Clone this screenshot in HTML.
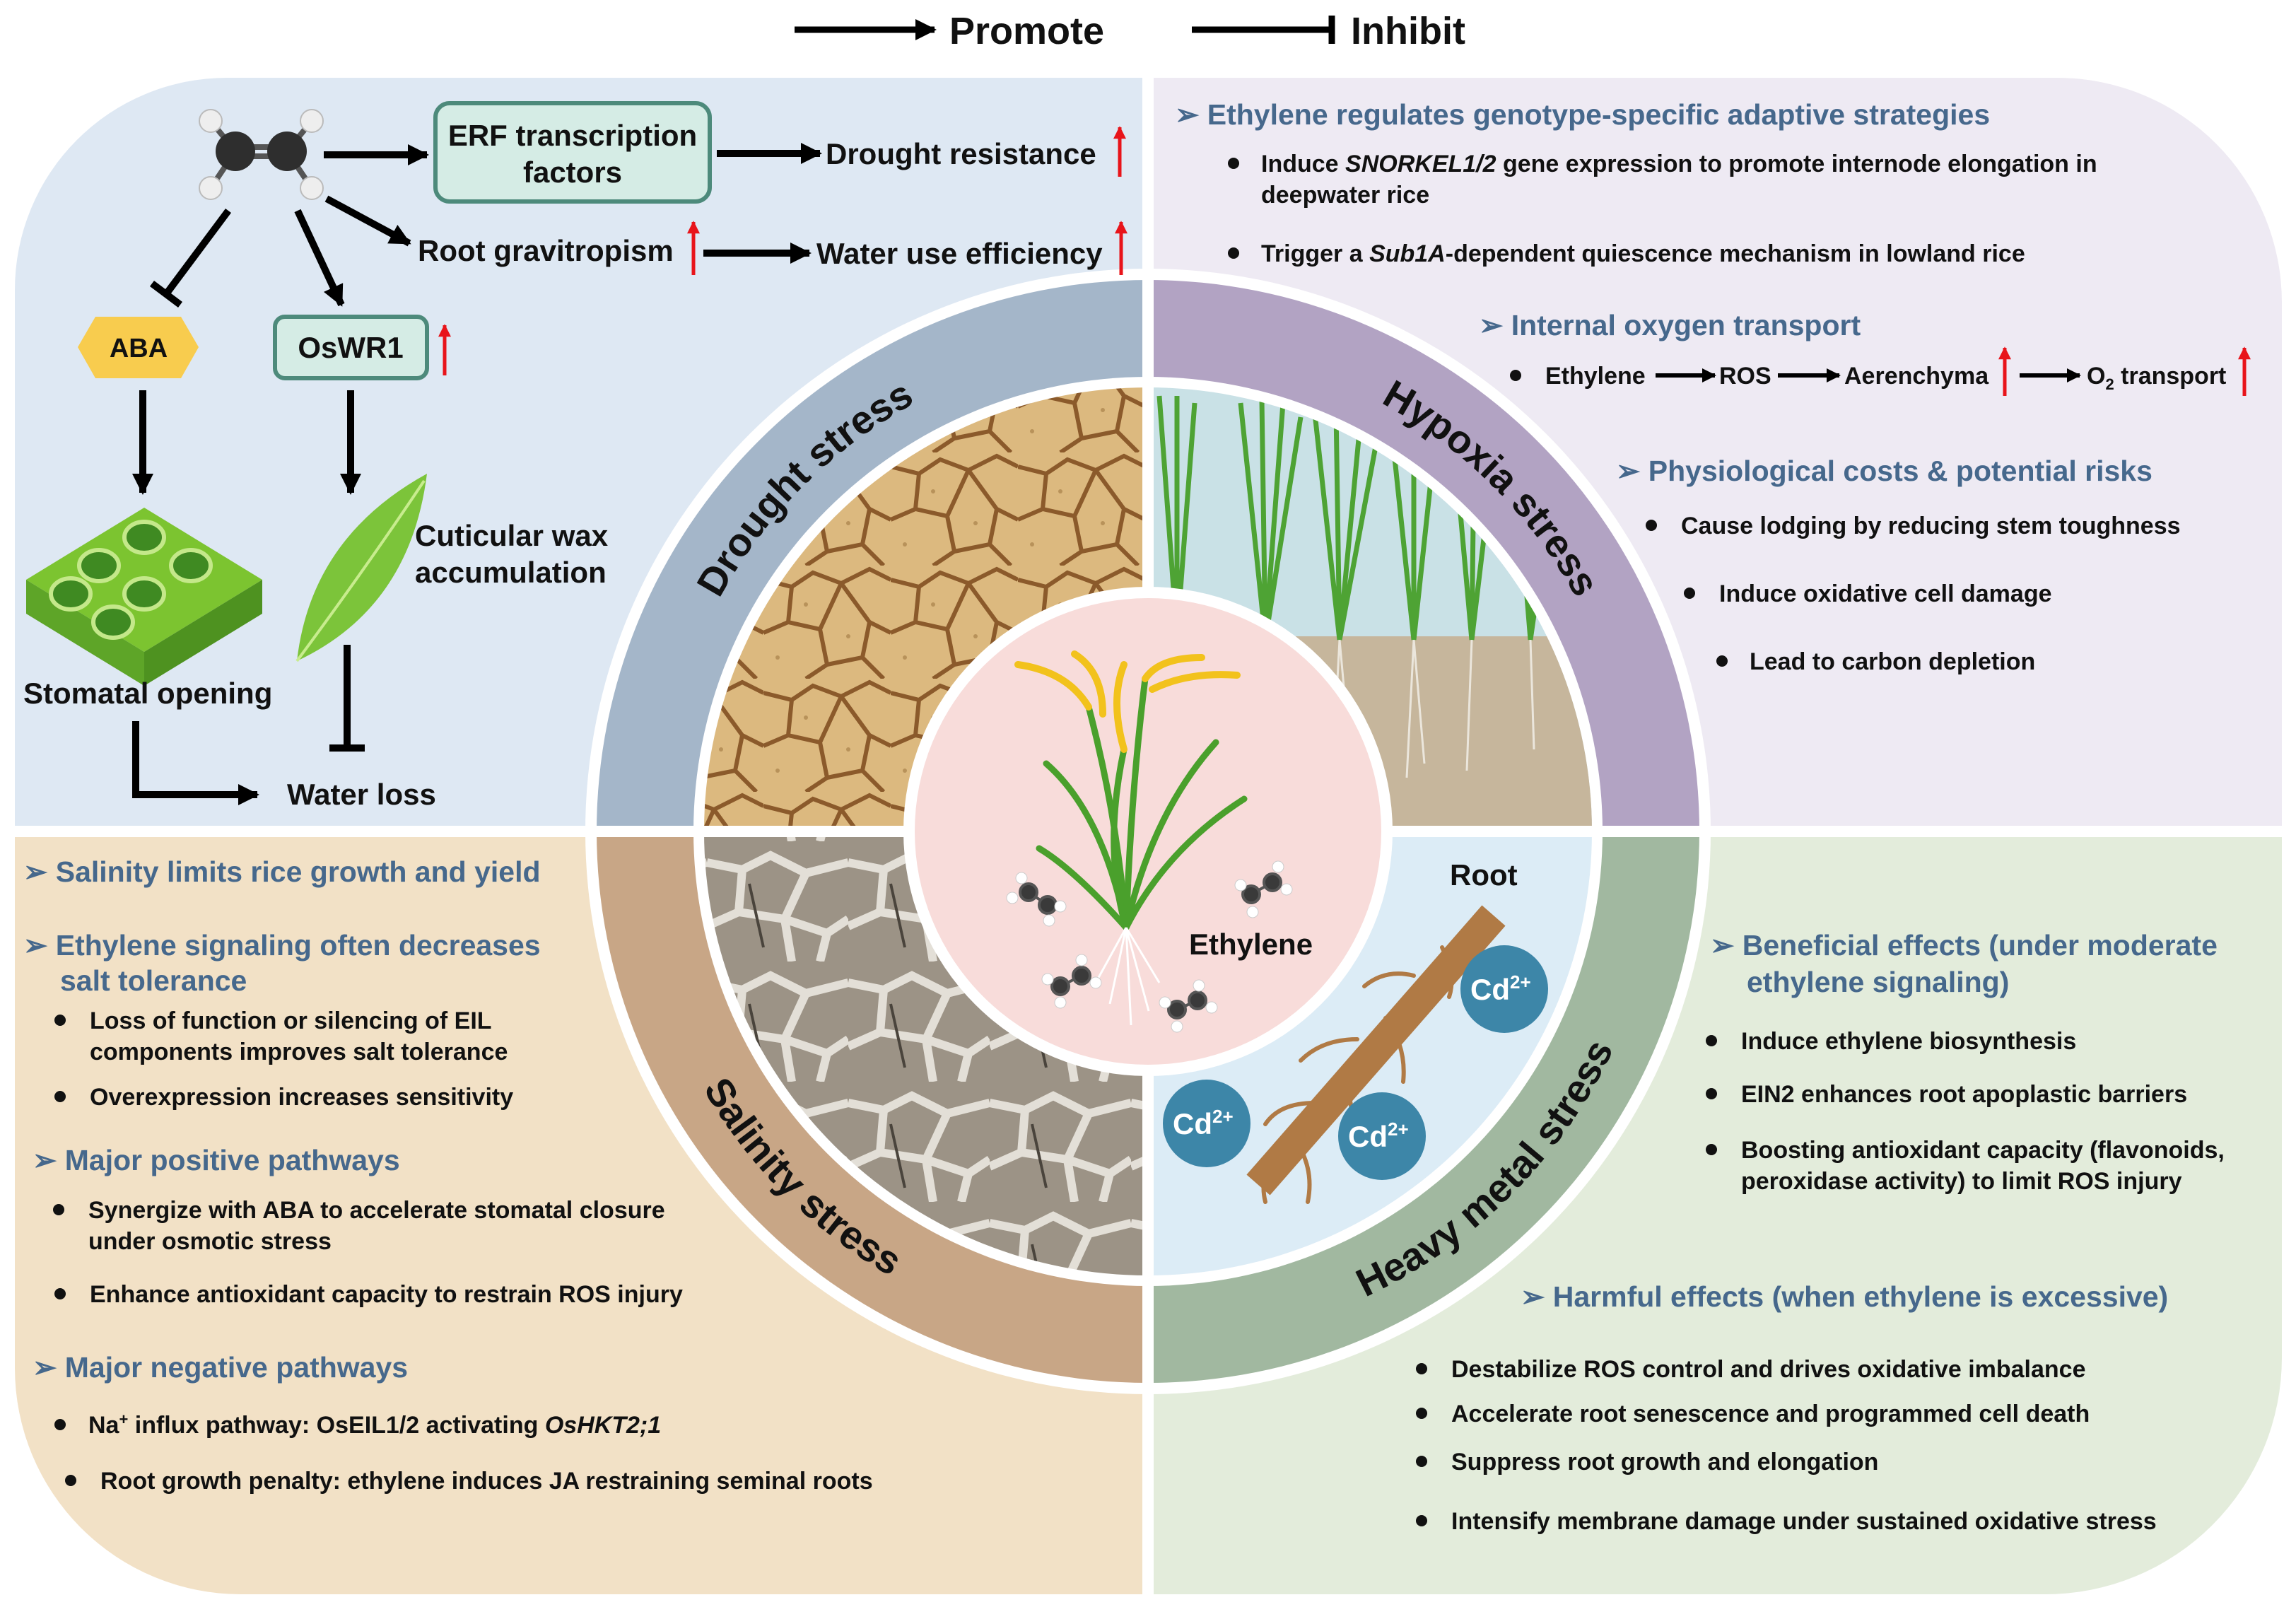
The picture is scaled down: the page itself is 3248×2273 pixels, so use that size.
<!DOCTYPE html>
<html><head><meta charset="utf-8"><style>
html,body{margin:0;padding:0;background:#fff;width:3248px;height:2273px;overflow:hidden}
svg{display:block}
text{font-family:"Liberation Sans",Arial,sans-serif;font-weight:bold}
.h{fill:#46688c;font-size:41px}
.b{fill:#111;font-size:34px}
.t{fill:#111;font-size:42px}
</style></head><body>
<svg width="3248" height="2273" viewBox="0 0 3248 2273" xmlns="http://www.w3.org/2000/svg">
<defs>
<marker id="ar" viewBox="0 0 10 10" refX="9" refY="5" markerWidth="38" markerHeight="30" markerUnits="userSpaceOnUse" orient="auto"><path d="M0,0 L10,5 L0,10 Z" fill="#000"/></marker>
<marker id="ars" viewBox="0 0 10 10" refX="9" refY="5" markerWidth="26" markerHeight="20" markerUnits="userSpaceOnUse" orient="auto"><path d="M0,0 L10,5 L0,10 Z" fill="#000"/></marker>
<marker id="arr" viewBox="0 0 10 10" refX="9" refY="5" markerWidth="22" markerHeight="18" markerUnits="userSpaceOnUse" orient="auto"><path d="M0,0 L10,5 L0,10 Z" fill="#e8141a"/></marker>
<pattern id="crack" width="180" height="160" patternUnits="userSpaceOnUse">
<rect width="180" height="160" fill="#dcb97f"/>
<path d="M0,20 L40,30 L70,10 L110,25 L150,5 L180,20 M40,30 L35,80 L0,95 M35,80 L80,90 L110,25 M80,90 L90,140 L60,160 M90,140 L140,130 L150,80 L180,95 M150,80 L110,25 M140,130 L170,160" stroke="#8b5a2b" stroke-width="6" fill="none"/>
<circle cx="60" cy="55" r="3" fill="#b8925a"/><circle cx="120" cy="100" r="3" fill="#b8925a"/><circle cx="20" cy="130" r="3" fill="#b8925a"/>
</pattern>
<pattern id="salt" width="200" height="170" patternUnits="userSpaceOnUse">
<rect width="200" height="170" fill="#9c9386"/>
<path d="M0,30 L50,40 L90,20 L140,45 L200,30 M50,40 L45,100 L0,120 M45,100 L110,110 L140,45 M110,110 L120,170 M110,110 L170,130 L200,110 M170,130 L160,170" stroke="#ece8e0" stroke-width="12" fill="none" opacity="0.9"/>
<path d="M60,60 L80,150" stroke="#4a443c" stroke-width="4"/>
</pattern>
<clipPath id="qTL"><path d="M1624,1176 L996,1176 A628,628 0 0 1 1624,548 Z"/></clipPath>
<clipPath id="qTR"><path d="M1624,1176 L1624,548 A628,628 0 0 1 2252,1176 Z"/></clipPath>
<clipPath id="qBL"><path d="M1624,1176 L1624,1804 A628,628 0 0 1 996,1176 Z"/></clipPath>
<clipPath id="qBR"><path d="M1624,1176 L2252,1176 A628,628 0 0 1 1624,1804 Z"/></clipPath>
<path id="pD" d="M934,1176 A690,690 0 0 1 1624,486"/>
<path id="pH" d="M1624,486 A690,690 0 0 1 2314,1176"/>
<path id="pS" d="M897,1176 A727,727 0 0 0 1624,1903"/>
<path id="pM" d="M1624,1903 A727,727 0 0 0 2351,1176"/>
</defs>

<path d="M21,1168 L21,410 A300,300 0 0 1 321,110 L1616,110 L1616,1168 Z" fill="#dee8f3"/>
<path d="M1632,110 L2910,110 A318,318 0 0 1 3228,428 L3228,1168 L1632,1168 Z" fill="#eeeaf3"/>
<path d="M21,1184 L1616,1184 L1616,2255 L341,2255 A320,320 0 0 1 21,1935 Z" fill="#f2e1c6"/>
<path d="M1632,1184 L3228,1184 L3228,1920 A335,335 0 0 1 2893,2255 L1632,2255 Z" fill="#e3ecdb"/>

<circle cx="1624" cy="1176" r="796" fill="#fff"/>
<path d="M1624,1176 L844,1176 A780,780 0 0 1 1624,396 Z" fill="#a4b6c9"/>
<path d="M1624,1176 L1624,396 A780,780 0 0 1 2404,1176 Z" fill="#b2a3c3"/>
<path d="M1624,1176 L1624,1956 A780,780 0 0 1 844,1176 Z" fill="#c8a686"/>
<path d="M1624,1176 L2404,1176 A780,780 0 0 1 1624,1956 Z" fill="#a1b8a0"/>
<circle cx="1624" cy="1176" r="643" fill="#fff"/>

<g clip-path="url(#qTL)"><rect x="990" y="540" width="640" height="640" fill="url(#crack)"/></g>
<g clip-path="url(#qTR)">
<rect x="1620" y="540" width="640" height="640" fill="#c9e1e6"/>
<rect x="1620" y="900" width="640" height="280" fill="#c6b69c"/>
<g stroke="#4ea334" stroke-width="7" fill="none">
<path d="M1665,900 L1640,560 M1665,900 L1665,560 M1665,900 L1690,570"/>
<path d="M1790,905 L1755,570 M1790,905 L1785,565 M1790,905 L1815,570 M1790,905 L1840,590"/>
<path d="M1895,905 L1860,585 M1895,905 L1890,580 M1895,905 L1925,590 M1895,905 L1950,610"/>
<path d="M2000,905 L1970,620 M2000,905 L2000,615 M2000,905 L2030,625"/>
<path d="M2082,905 L2060,660 M2082,905 L2085,655 M2082,905 L2110,670"/>
<path d="M2165,905 L2150,720 M2165,905 L2170,715 M2165,905 L2190,730"/>
</g>
<g stroke="#f4f2ec" stroke-width="3" fill="none" opacity="0.8">
<path d="M1790,905 L1780,1060 M1790,905 L1805,1080 M1895,905 L1885,1090 M1895,905 L1910,1070 M2000,905 L1990,1100 M2000,905 L2015,1080 M2082,905 L2075,1090 M2165,905 L2170,1060"/>
</g>
</g>
<g clip-path="url(#qBL)"><rect x="990" y="1170" width="640" height="640" fill="url(#salt)"/></g>
<g clip-path="url(#qBR)"><rect x="1620" y="1170" width="640" height="640" fill="#dcecf6"/></g>

<circle cx="1624" cy="1176" r="346" fill="#fff"/>
<rect x="1616" y="110" width="16" height="2150" fill="#fff"/>
<rect x="15" y="1168" width="3220" height="16" fill="#fff"/>
<circle cx="1624" cy="1176" r="330" fill="#f8dcda"/>

<text font-size="56" fill="#111"><textPath href="#pD" startOffset="50%" text-anchor="middle">Drought stress</textPath></text>
<text font-size="56" fill="#111"><textPath href="#pH" startOffset="50%" text-anchor="middle">Hypoxia stress</textPath></text>
<text font-size="56" fill="#111"><textPath href="#pS" startOffset="50%" text-anchor="middle">Salinity stress</textPath></text>
<text font-size="56" fill="#111"><textPath href="#pM" startOffset="50%" text-anchor="middle">Heavy metal stress</textPath></text>

<g stroke="#4aa02c" stroke-width="9" fill="none" stroke-linecap="round">
<path d="M1593,1312 Q1560,1150 1480,1080"/>
<path d="M1593,1312 Q1580,1150 1540,1000"/>
<path d="M1593,1312 Q1600,1120 1620,960"/>
<path d="M1593,1312 Q1630,1150 1720,1050"/>
<path d="M1593,1312 Q1650,1200 1760,1130"/>
<path d="M1593,1312 Q1520,1230 1470,1200"/>
<path d="M1593,1312 Q1560,1200 1590,1060"/>
</g>
<g stroke="#f2c21c" stroke-width="10" fill="none" stroke-linecap="round">
<path d="M1540,1000 Q1510,950 1440,940"/><path d="M1560,1010 Q1560,950 1520,925"/>
<path d="M1620,960 Q1640,930 1700,930"/><path d="M1630,975 Q1680,950 1750,955"/>
<path d="M1590,1060 Q1570,990 1590,940"/>
</g>
<g stroke="#fff" stroke-width="3" fill="none">
<path d="M1593,1312 L1570,1420 M1593,1312 L1600,1450 M1593,1312 L1625,1430 M1593,1312 L1550,1390 M1593,1312 L1640,1390"/>
</g>
<g fill="#3a3a3a" stroke="#555" stroke-width="4">
<line x1="1455" y1="1262" x2="1482" y2="1280"/><circle cx="1455" cy="1262" r="12"/><circle cx="1482" cy="1280" r="12"/>
<line x1="1770" y1="1265" x2="1800" y2="1248"/><circle cx="1770" cy="1265" r="12"/><circle cx="1800" cy="1248" r="12"/>
<line x1="1500" y1="1395" x2="1530" y2="1380"/><circle cx="1500" cy="1395" r="12"/><circle cx="1530" cy="1380" r="12"/>
<line x1="1665" y1="1428" x2="1694" y2="1415"/><circle cx="1665" cy="1428" r="12"/><circle cx="1694" cy="1415" r="12"/>
</g>
<g fill="#fff" stroke="#ccc" stroke-width="1">
<circle cx="1445" cy="1242" r="8"/><circle cx="1432" cy="1270" r="8"/><circle cx="1500" cy="1282" r="8"/><circle cx="1484" cy="1302" r="8"/>
<circle cx="1755" cy="1252" r="8"/><circle cx="1772" cy="1290" r="8"/><circle cx="1808" cy="1226" r="8"/><circle cx="1820" cy="1258" r="8"/>
<circle cx="1482" cy="1385" r="8"/><circle cx="1500" cy="1418" r="8"/><circle cx="1530" cy="1358" r="8"/><circle cx="1550" cy="1390" r="8"/>
<circle cx="1648" cy="1418" r="8"/><circle cx="1665" cy="1452" r="8"/><circle cx="1696" cy="1394" r="8"/><circle cx="1714" cy="1425" r="8"/>
</g>
<text x="1682" y="1350" class="t">Ethylene</text>

<text x="2051" y="1252" class="t">Root</text>
<g stroke="#b07a45" fill="none" stroke-linecap="round" stroke-width="6">
<path d="M2000,1380 Q1960,1370 1930,1395"/><path d="M2040,1340 Q2060,1380 2050,1410"/>
<path d="M1920,1470 Q1870,1470 1840,1500"/><path d="M1960,1440 Q1990,1480 1985,1530"/>
<path d="M1860,1560 Q1810,1560 1790,1590"/><path d="M1900,1530 Q1920,1570 1910,1620"/>
<path d="M1810,1630 Q1780,1660 1790,1700"/><path d="M1830,1610 Q1860,1650 1850,1700"/>
<path d="M2080,1320 Q2110,1350 2100,1400"/>
</g>
<line x1="2113" y1="1295" x2="1780" y2="1676" stroke="#b07a45" stroke-width="44"/>
<g fill="#3d86a8"><circle cx="2128" cy="1399" r="62"/><circle cx="1707" cy="1589" r="62"/><circle cx="1955" cy="1607" r="62"/></g>
<g fill="#fff" font-size="42">
<text x="2080" y="1414">Cd<tspan font-size="26" dy="-16">2+</tspan></text>
<text x="1659" y="1604">Cd<tspan font-size="26" dy="-16">2+</tspan></text>
<text x="1907" y="1622">Cd<tspan font-size="26" dy="-16">2+</tspan></text>
</g>

<line x1="1124" y1="42" x2="1322" y2="42" stroke="#000" stroke-width="9" marker-end="url(#ar)"/>
<text x="1343" y="62" font-size="54" fill="#111">Promote</text>
<line x1="1686" y1="42" x2="1884" y2="42" stroke="#000" stroke-width="9"/>
<line x1="1884" y1="22" x2="1884" y2="62" stroke="#000" stroke-width="9"/>
<text x="1911" y="62" font-size="54" fill="#111">Inhibit</text>

<g stroke="#555" stroke-width="8"><line x1="333" y1="214" x2="298" y2="171"/><line x1="406" y1="214" x2="441" y2="171"/><line x1="333" y1="214" x2="298" y2="266"/><line x1="406" y1="214" x2="441" y2="266"/><line x1="333" y1="208" x2="406" y2="208"/><line x1="333" y1="221" x2="406" y2="221"/></g>
<circle cx="333" cy="214" r="28" fill="#2e2e2e"/><circle cx="406" cy="214" r="28" fill="#2e2e2e"/>
<g fill="#eee" stroke="#bbb" stroke-width="2"><circle cx="298" cy="171" r="16"/><circle cx="441" cy="171" r="16"/><circle cx="298" cy="266" r="16"/><circle cx="441" cy="266" r="16"/></g>

<rect x="616" y="146" width="388" height="139" rx="20" fill="#d5ece5" stroke="#4d8a7b" stroke-width="6"/>
<text x="810" y="206" class="t" text-anchor="middle">ERF transcription</text>
<text x="810" y="258" class="t" text-anchor="middle">factors</text>
<g stroke="#000" stroke-width="10" fill="none">
<line x1="458" y1="219" x2="604" y2="219" marker-end="url(#ar)"/>
<line x1="1014" y1="217" x2="1160" y2="217" marker-end="url(#ar)"/>
<line x1="462" y1="281" x2="579" y2="344" marker-end="url(#ar)"/>
<line x1="995" y1="358" x2="1145" y2="358" marker-end="url(#ar)"/>
<line x1="421" y1="298" x2="483" y2="431" marker-end="url(#ar)"/>
<line x1="323" y1="298" x2="235" y2="416"/>
<line x1="215" y1="401" x2="255" y2="431"/>
<line x1="202" y1="552" x2="202" y2="697" marker-end="url(#ar)"/>
<line x1="496" y1="552" x2="496" y2="697" marker-end="url(#ar)"/>
<line x1="491" y1="912" x2="491" y2="1058"/>
<line x1="466" y1="1058" x2="516" y2="1058"/>
<polyline points="192,1020 192,1124 364,1124" marker-end="url(#ar)"/>
</g>
<text x="1168" y="232" class="t">Drought resistance</text>
<text x="591" y="369" class="t">Root gravitropism</text>
<text x="1155" y="373" class="t">Water use efficiency</text>
<g stroke="#e8141a" stroke-width="5">
<line x1="1584" y1="250" x2="1584" y2="180" marker-end="url(#arr)"/>
<line x1="981" y1="389" x2="981" y2="314" marker-end="url(#arr)"/>
<line x1="1586" y1="389" x2="1586" y2="314" marker-end="url(#arr)"/>
<line x1="629" y1="531" x2="629" y2="460" marker-end="url(#arr)"/>
</g>
<polygon points="110,491 135,448 256,448 281,491 256,535 135,535" fill="#f8cc4e"/>
<text x="196" y="505" font-size="38" fill="#111" text-anchor="middle">ABA</text>
<rect x="389" y="448" width="215" height="87" rx="14" fill="#d5ece5" stroke="#4d8a7b" stroke-width="6"/>
<text x="496" y="506" class="t" text-anchor="middle">OsWR1</text>

<polygon points="37,820 204,718 371,820 204,922" fill="#7cc430"/>
<polygon points="37,820 204,922 204,970 37,868" fill="#5ea528"/>
<polygon points="371,820 204,922 204,970 371,868" fill="#4e9220"/>
<g fill="#3f8a22" stroke="#c4e88a" stroke-width="6">
<ellipse cx="204" cy="760" rx="28" ry="22"/><ellipse cx="140" cy="800" rx="28" ry="22"/><ellipse cx="270" cy="800" rx="28" ry="22"/>
<ellipse cx="204" cy="840" rx="28" ry="22"/><ellipse cx="100" cy="840" rx="28" ry="22"/><ellipse cx="160" cy="880" rx="28" ry="22"/>
</g>
<path d="M420,935 Q440,760 604,670 Q580,860 420,935 Z" fill="#7cc43a"/>
<path d="M420,935 Q520,800 600,680" stroke="#c8ec8e" stroke-width="4" fill="none"/>
<text x="587" y="772" class="t">Cuticular wax</text>
<text x="587" y="824" class="t">accumulation</text>
<text x="33" y="995" class="t">Stomatal opening</text>
<text x="406" y="1138" class="t">Water loss</text>

<text x="1662" y="176" class="h">➢ Ethylene regulates genotype-specific adaptive strategies</text>
<circle cx="1745" cy="231" r="8" fill="#111"/>
<text x="1784" y="243" class="b">Induce <tspan font-style="italic">SNORKEL1/2</tspan> gene expression to promote internode elongation in</text>
<text x="1784" y="287" class="b">deepwater rice</text>
<circle cx="1745" cy="358" r="8" fill="#111"/>
<text x="1784" y="370" class="b">Trigger a <tspan font-style="italic">Sub1A</tspan>-dependent quiescence mechanism in lowland rice</text>
<text x="2092" y="474" class="h">➢ Internal oxygen transport</text>
<circle cx="2144" cy="531" r="8" fill="#111"/>
<text x="2186" y="543" class="b">Ethylene</text>
<text x="2432" y="543" class="b">ROS</text>
<text x="2609" y="543" class="b">Aerenchyma</text>
<text x="2952" y="543" class="b">O<tspan font-size="22" dy="8">2</tspan><tspan dy="-8"> transport</tspan></text>
<g stroke="#000" stroke-width="6">
<line x1="2342" y1="531" x2="2426" y2="531" marker-end="url(#ars)"/>
<line x1="2515" y1="531" x2="2602" y2="531" marker-end="url(#ars)"/>
<line x1="2857" y1="531" x2="2942" y2="531" marker-end="url(#ars)"/>
</g>
<g stroke="#e8141a" stroke-width="5">
<line x1="2836" y1="560" x2="2836" y2="492" marker-end="url(#arr)"/>
<line x1="3175" y1="560" x2="3175" y2="492" marker-end="url(#arr)"/>
</g>
<text x="2286" y="680" class="h">➢ Physiological costs &amp; potential risks</text>
<circle cx="2336" cy="743" r="8" fill="#111"/><text x="2378" y="755" class="b">Cause lodging by reducing stem toughness</text>
<circle cx="2390" cy="839" r="8" fill="#111"/><text x="2432" y="851" class="b">Induce oxidative cell damage</text>
<circle cx="2436" cy="935" r="8" fill="#111"/><text x="2475" y="947" class="b">Lead to carbon depletion</text>

<text x="33" y="1247" class="h">➢ Salinity limits rice growth and yield</text>
<text x="33" y="1351" class="h">➢ Ethylene signaling often decreases</text>
<text x="85" y="1401" class="h">salt tolerance</text>
<circle cx="85" cy="1443" r="8" fill="#111"/>
<text x="127" y="1455" class="b">Loss of function or silencing of EIL</text>
<text x="127" y="1499" class="b">components improves salt tolerance</text>
<circle cx="85" cy="1551" r="8" fill="#111"/>
<text x="127" y="1563" class="b">Overexpression increases sensitivity</text>
<text x="46" y="1655" class="h">➢ Major positive pathways</text>
<circle cx="83" cy="1711" r="8" fill="#111"/>
<text x="125" y="1723" class="b">Synergize with ABA to accelerate stomatal closure</text>
<text x="125" y="1767" class="b">under osmotic stress</text>
<circle cx="85" cy="1830" r="8" fill="#111"/>
<text x="127" y="1842" class="b">Enhance antioxidant capacity to restrain ROS injury</text>
<text x="46" y="1948" class="h">➢ Major negative pathways</text>
<circle cx="85" cy="2015" r="8" fill="#111"/>
<text x="125" y="2027" class="b">Na<tspan font-size="22" dy="-12">+</tspan><tspan dy="12"> influx pathway: OsEIL1/2 activating </tspan><tspan font-style="italic">OsHKT2;1</tspan></text>
<circle cx="100" cy="2094" r="8" fill="#111"/>
<text x="142" y="2106" class="b">Root growth penalty: ethylene induces JA restraining seminal roots</text>

<text x="2419" y="1351" class="h">➢ Beneficial effects (under moderate</text>
<text x="2471" y="1403" class="h">ethylene signaling)</text>
<circle cx="2421" cy="1472" r="8" fill="#111"/><text x="2463" y="1484" class="b">Induce ethylene biosynthesis</text>
<circle cx="2421" cy="1547" r="8" fill="#111"/><text x="2463" y="1559" class="b">EIN2 enhances root apoplastic barriers</text>
<circle cx="2421" cy="1626" r="8" fill="#111"/><text x="2463" y="1638" class="b">Boosting antioxidant capacity (flavonoids,</text>
<text x="2463" y="1682" class="b">peroxidase activity) to limit ROS injury</text>
<text x="2151" y="1848" class="h">➢ Harmful effects (when ethylene is excessive)</text>
<circle cx="2011" cy="1936" r="8" fill="#111"/><text x="2053" y="1948" class="b">Destabilize ROS control and drives oxidative imbalance</text>
<circle cx="2011" cy="1999" r="8" fill="#111"/><text x="2053" y="2011" class="b">Accelerate root senescence and programmed cell death</text>
<circle cx="2011" cy="2067" r="8" fill="#111"/><text x="2053" y="2079" class="b">Suppress root growth and elongation</text>
<circle cx="2011" cy="2151" r="8" fill="#111"/><text x="2053" y="2163" class="b">Intensify membrane damage under sustained oxidative stress</text>
</svg>
</body></html>
